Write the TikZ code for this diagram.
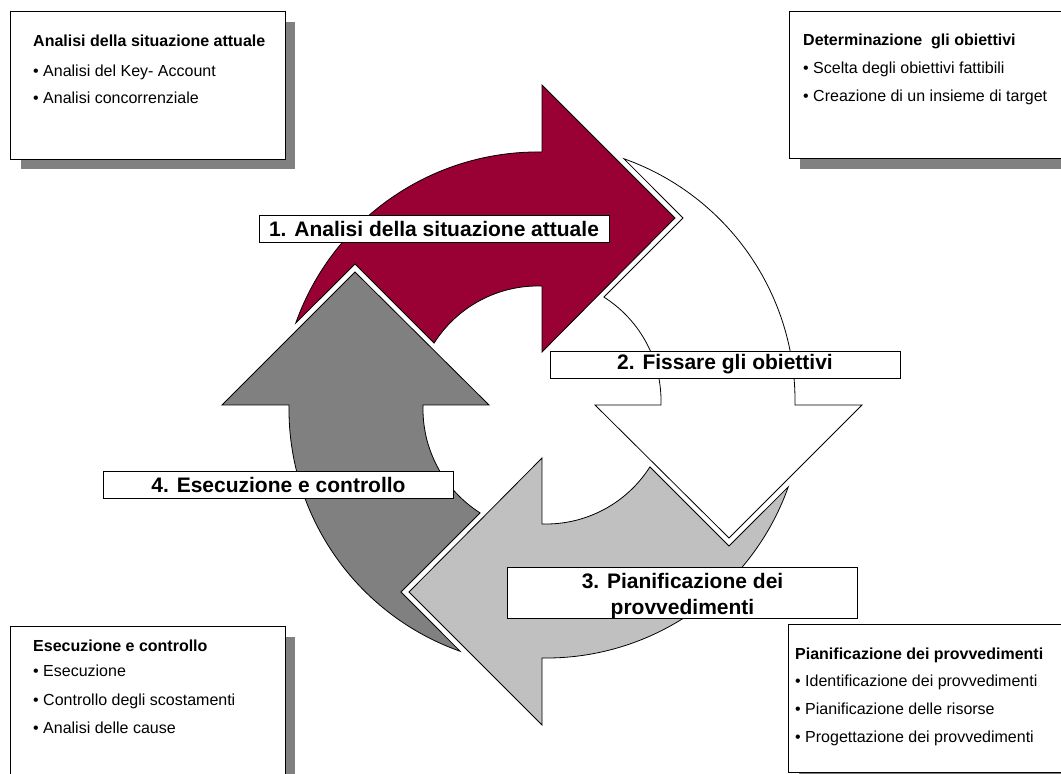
\documentclass[tikz,border=0pt]{standalone}
\usepackage{fontspec}
\setmainfont{Liberation Sans}
\usetikzlibrary{calc}
\definecolor{crimson}{RGB}{153,0,51}
\definecolor{darkgr}{RGB}{128,128,128}
\definecolor{lightgr}{RGB}{192,192,192}
\definecolor{shadowgr}{RGB}{128,128,128}
\tikzset{
  cyclearrow/.pic={
    \path[pic actions] (133,187) -- (0,320) -- (0,253)
      arc[start angle=89.1, end angle=160.5, radius=257]
      -- (-187,141) -- (-107.9,61.9)
      arc[start angle=147.6, end angle=88.1, radius=123.06]
      -- (0,53) -- cycle;
  },
  arrowline/.style={draw=black, line width=0.8pt, line join=miter},
  steplabel/.style={draw=black, fill=white, line width=0.8pt, minimum width=350pt,
    minimum height=27pt, inner sep=0pt, align=center,
    font=\fontsize{21}{26}\selectfont\bfseries},
  steptext/.style={inner sep=0pt, align=center,
    font=\fontsize{21}{26}\selectfont\bfseries},
  infobox/.style={fill=white, minimum width=274pt,
    minimum height=147pt, inner sep=0pt},
  boxline/.style={line width=0.8pt},
  infotitle/.style={anchor=base west, inner sep=0pt, font=\fontsize{16}{19}\selectfont\bfseries},
  infoitem/.style={anchor=base west, inner sep=0pt, font=\fontsize{16}{19}\selectfont},
}
\begin{document}
\begin{tikzpicture}[x=1pt,y=1pt]
\useasboundingbox (0,0) rectangle (1061,774);
\clip (0,0) rectangle (1061,774);
\fill[white] (0,0) rectangle (1061,774);

% cycle arrows
\coordinate (C) at (542,369);
\pic[arrowline, fill=crimson] at (C) {cyclearrow};
\pic[arrowline, fill=white, rotate=-90] at (C) {cyclearrow};
\pic[arrowline, fill=lightgr, rotate=180] at (C) {cyclearrow};
\pic[arrowline, fill=darkgr, rotate=90] at (C) {cyclearrow};

% step labels
\node[steplabel] (s1) at (434,545) {1. Analisi della situazione attuale};
\node[steplabel] (s2) at (725,409.5) {2. Fissare gli obiettivi};
\node[steplabel] (s4) at (278.5,289) {4. Esecuzione e controllo};
\node[steplabel, minimum height=51pt] (s3) at (682.5,181.5) {};
\node[steptext] (s3t) at ($(s3.center)+(0,-4)$) {3. Pianificazione dei\\provvedimenti};

% info boxes with shadows (right-hand ones run past the page edge)
\node[infobox] (b1) at (148,688.5) {};
\node[infobox, minimum width=320pt] (b2) at (950,689) {};
\node[infobox, minimum height=160pt] (b4) at (148,67) {};
\node[infobox, minimum width=320pt] (b3) at (949,75.5) {};
\foreach \b in {b1,b4}{
  \fill[shadowgr] ($(\b.south west)+(10,-10)$) rectangle ($(\b.south east)+(10,0)$);
  \fill[shadowgr] ($(\b.south east)+(0,-10)$) rectangle ($(\b.north east)+(10,-10)$);
}
\fill[shadowgr] ($(b2.south west)+(10,-10)$) rectangle (b2.south east);
\fill[shadowgr] ($(b3.south west)+(10,-10)$) rectangle (b3.south east);
\draw[boxline] (b1.south west) rectangle (b1.north east);
\draw[boxline] (b4.south west) rectangle (b4.north east);
\draw[boxline] (b2.south west) rectangle (b2.north east);
\draw[boxline] (b3.south west) rectangle (b3.north east);

\node[infotitle] (t1) at (33,727) {Analisi della situazione attuale};
\node[infoitem] (t1a) at (33,697) {• Analisi del Key- Account};
\node[infoitem] (t1b) at (33,670) {• Analisi concorrenziale};

\node[infotitle] (t2) at (803,728) {Determinazione~ gli obiettivi};
\node[infoitem] (t2a) at (803,700) {• Scelta degli obiettivi fattibili};
\node[infoitem] (t2b) at (803,672) {• Creazione di un insieme di target};

\node[infotitle] (t4) at (33,122) {Esecuzione e controllo};
\node[infoitem] (t4a) at (33,97) {• Esecuzione};
\node[infoitem] (t4b) at (33,68) {• Controllo degli scostamenti};
\node[infoitem] (t4c) at (33,40) {• Analisi delle cause};

\node[infotitle] (t3) at (795,114) {Pianificazione dei provvedimenti};
\node[infoitem] (t3a) at (795,87) {• Identificazione dei provvedimenti};
\node[infoitem] (t3b) at (795,59) {• Pianificazione delle risorse};
\node[infoitem] (t3c) at (795,31) {• Progettazione dei provvedimenti};
\end{tikzpicture}
\end{document}
